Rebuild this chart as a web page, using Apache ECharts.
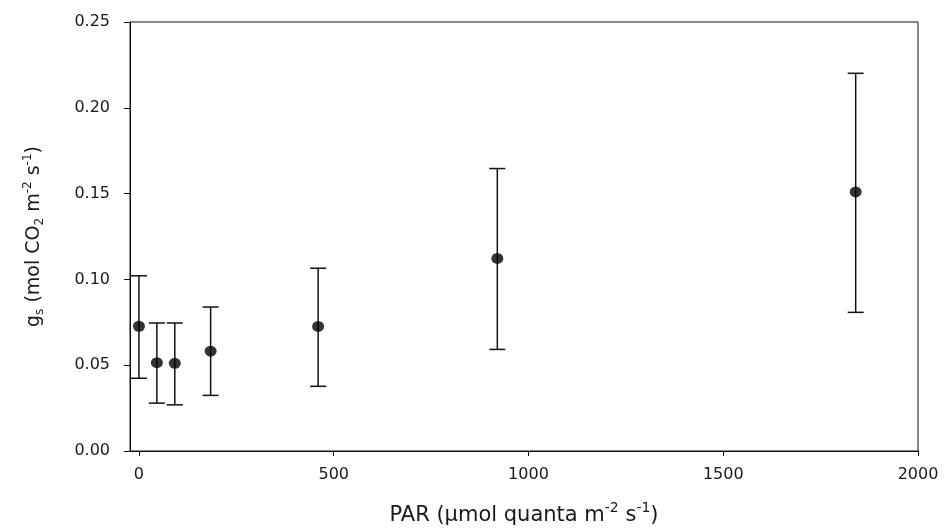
<!DOCTYPE html>
<html>
<head>
<meta charset="utf-8">
<script src="https://cdn.jsdelivr.net/npm/echarts@6/dist/echarts.min.js"></script>
<style>html,body{margin:0;padding:0;background:#fff}#c{width:946px;height:531px}</style>
</head>
<body>
<div id="c"></div>
<script>
const par = [0, 46, 92, 184, 460, 920, 1840];
const gs = [0.0727, 0.0515, 0.0511, 0.0582, 0.0726, 0.1122, 0.151];
const gsLow = [0.0424, 0.0279, 0.0269, 0.0324, 0.0377, 0.0592, 0.0808];
const gsHigh = [0.1021, 0.0746, 0.0746, 0.0839, 0.1065, 0.1646, 0.2201];
const xTicks = [0, 500, 1000, 1500, 2000];

const chart = echarts.init(document.getElementById('c'));
const font = 'DejaVu Sans, Liberation Sans, Arial, sans-serif';
const txt = '#1a1a1a';
chart.setOption({
  animation: false,
  backgroundColor: '#fff',
  grid: { left: 130, right: 28, top: 22, bottom: 74, show: true, borderColor: '#111', borderWidth: 1, backgroundColor: 'transparent' },
  xAxis: {
    type: 'value', min: -23, max: 2000,
    axisLine: { show: true, onZero: false, lineStyle: { color: '#111', width: 1 } },
    axisTick: { show: true, length: 5, customValues: xTicks, lineStyle: { color: '#111' } },
    axisLabel: { customValues: xTicks, color: txt, fontSize: 16, fontFamily: font, margin: 16, formatter: v => String(v) },
    splitLine: { show: false },
    name: '{n|PAR (μmol quanta m}{sup|-2}{n| s}{sup|-1}{n|)}',
    nameLocation: 'middle', nameGap: 50,
    nameTextStyle: {
      rich: {
        n: { fontSize: 21, fontFamily: font, color: txt, verticalAlign: 'bottom', lineHeight: 25 },
        sup: { fontSize: 14, fontFamily: font, color: txt, verticalAlign: 'top', lineHeight: 25 }
      }
    }
  },
  yAxis: {
    type: 'value', min: 0, max: 0.25, interval: 0.05,
    axisLine: { show: true, onZero: false, lineStyle: { color: '#111', width: 1 } },
    axisTick: { show: true, length: 6, lineStyle: { color: '#111' } },
    axisLabel: { color: txt, fontSize: 16, fontFamily: font, margin: 20, formatter: v => v.toFixed(2) },
    splitLine: { show: false },
    name: '{n|g}{sub|s}{n| (mol CO}{sub|2}{n| m}{sup|-2}{n| s}{sup|-1}{n|)}',
    nameLocation: 'middle', nameGap: 84, nameRotate: 90,
    nameTextStyle: {
      rich: {
        n: { fontSize: 19, fontFamily: font, color: txt, verticalAlign: 'middle', lineHeight: 24 },
        sub: { fontSize: 12, fontFamily: font, color: txt, verticalAlign: 'bottom', lineHeight: 24 },
        sup: { fontSize: 12, fontFamily: font, color: txt, verticalAlign: 'top', lineHeight: 24 }
      }
    }
  },
  series: [
    {
      type: 'custom',
      data: par.map((x, i) => [x, gsLow[i], gsHigh[i]]),
      renderItem: function (params, api) {
        const x = api.value(0);
        const lo = api.coord([x, api.value(1)]);
        const hi = api.coord([x, api.value(2)]);
        const w = 8;
        const st = { stroke: '#111', lineWidth: 1.5 };
        return {
          type: 'group',
          children: [
            { type: 'line', shape: { x1: lo[0], y1: lo[1], x2: hi[0], y2: hi[1] }, style: st },
            { type: 'line', shape: { x1: lo[0] - w, y1: lo[1], x2: lo[0] + w, y2: lo[1] }, style: st },
            { type: 'line', shape: { x1: hi[0] - w, y1: hi[1], x2: hi[0] + w, y2: hi[1] }, style: st }
          ]
        };
      },
      z: 2
    },
    {
      type: 'scatter',
      data: par.map((x, i) => [x, gs[i]]),
      symbol: 'circle', symbolSize: [12, 11],
      itemStyle: { color: '#000' },
      z: 3
    }
  ]
});
</script>
</body>
</html>
